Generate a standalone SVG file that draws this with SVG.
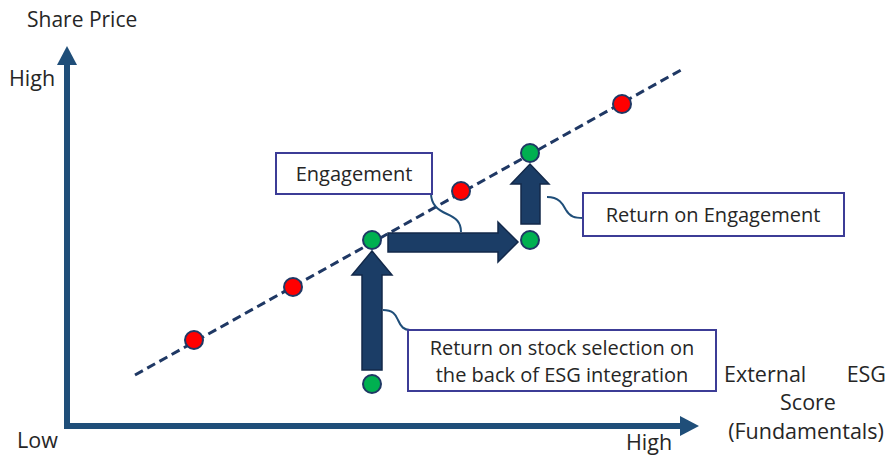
<svg xmlns="http://www.w3.org/2000/svg" width="887" height="457" viewBox="0 0 887 457">
  <style>
    .lbl { font-family: "Open Sans", "Noto Sans", sans-serif; fill: #262626; }
    .ax { font-size: 21.5px; }
    .axis { stroke: #1F4E79; stroke-width: 6; fill: none; }
    .axhead { fill: #1F4E79; }
    .trend { stroke: #1F3864; stroke-width: 3; stroke-dasharray: 9 5; fill: none; }
    .dot { stroke: #1F3864; stroke-width: 2; }
    .red { fill: #FF0000; }
    .green { fill: #00B050; }
    .bigarrow { fill: #1B3D66; stroke: #13294A; stroke-width: 1.5; }
    .box { fill: #FFFFFF; stroke: #3C3C96; stroke-width: 2; }
    .lead { stroke: #1F4E79; stroke-width: 2; fill: none; }
  </style>
  <rect width="887" height="457" fill="#FFFFFF"/>

  <!-- axes -->
  <g id="axes">
    <line class="axis" x1="67" y1="429" x2="67" y2="60"/>
    <polygon class="axhead" points="67,46 57,65 77,65"/>
    <line class="axis" x1="64" y1="426" x2="684" y2="426"/>
    <polygon class="axhead" points="699,426 680,416 680,436"/>
    <text class="lbl" x="27" y="27" font-size="21">Share Price</text>
    <text class="lbl ax" x="9" y="86">High</text>
    <text class="lbl ax" x="17" y="448">Low</text>
    <text class="lbl ax" x="626" y="450">High</text>
    <text class="lbl ax" x="724" y="382">External</text>
    <text class="lbl ax" x="886" y="382" text-anchor="end">ESG</text>
    <text class="lbl ax" x="808" y="410" text-anchor="middle">Score</text>
    <text class="lbl ax" x="806" y="439" text-anchor="middle">(Fundamentals)</text>
  </g>

  <!-- trend line -->
  <g id="trend">
    <line class="trend" x1="135" y1="375" x2="681" y2="70"/>
  </g>

  <!-- connectors: movement arrows and callout leaders -->
  <g id="connectors">
    <polygon class="bigarrow" points="362,370 382,370 382,275 392,275 372,251 352,275 362,275"/>
    <polygon class="bigarrow" points="388,233 498,233 498,222 518,242 498,262 498,252 388,252"/>
    <polygon class="bigarrow" points="521,224 540,224 540,184 549,184 530,164 511,184 521,184"/>
    <path class="lead" d="M431,193 C431,205 438,210 447,214 C456,218 461,222 461,232"/>
    <path class="lead" d="M547,197 C559,197 563,204 566,210 C570,217 575,218 583,218"/>
    <path class="lead" d="M383,310 C394,310 396,316 398,320 C401,327 404,330 410,330"/>
  </g>

  <!-- points on the line -->
  <g id="points">
    <circle class="dot red" cx="194" cy="340" r="9"/>
    <circle class="dot red" cx="293" cy="287" r="9"/>
    <circle class="dot green" cx="372" cy="240" r="9"/>
    <circle class="dot red" cx="461" cy="191" r="9"/>
    <circle class="dot green" cx="530" cy="153" r="9"/>
    <circle class="dot red" cx="622" cy="104" r="9"/>
    <circle class="dot green" cx="530" cy="240" r="9"/>
    <circle class="dot green" cx="372" cy="384" r="9"/>
  </g>

  <g id="engagement">
    <rect class="box" x="276" y="153" width="156" height="41"/>
    <text class="lbl" x="354" y="181" font-size="20" text-anchor="middle">Engagement</text>
  </g>

  <g id="return-on-engagement">
    <rect class="box" x="583" y="193" width="261" height="43"/>
    <text class="lbl" x="713" y="222" font-size="20" text-anchor="middle">Return on Engagement</text>
  </g>

  <g id="return-on-stock-selection">
    <rect class="box" x="408" y="330" width="308" height="61"/>
    <text class="lbl" x="562" y="355" font-size="20" text-anchor="middle">Return on stock selection on</text>
    <text class="lbl" x="562" y="382" font-size="20" text-anchor="middle">the back of ESG integration</text>
  </g>
</svg>
